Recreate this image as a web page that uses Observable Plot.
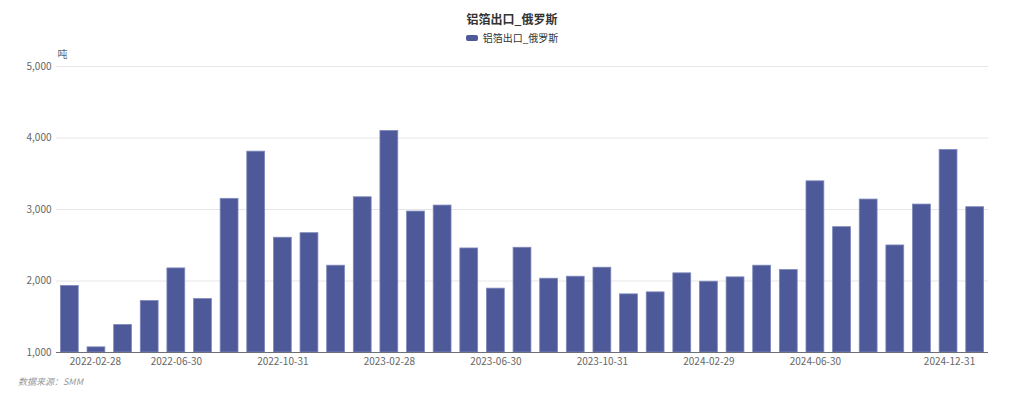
<!DOCTYPE html>
<html>
<head>
<meta charset="utf-8">
<script src="https://cdn.jsdelivr.net/npm/d3@7"></script>
<script src="https://cdn.jsdelivr.net/npm/@observablehq/plot@0.6"></script>
<style>
  html, body { margin: 0; padding: 0; background: #fff; }
  body { width: 1024px; height: 399px; overflow: hidden; font-family: "Noto Sans CJK SC", "Noto Sans", sans-serif; position: relative; }
  #title { position: absolute; left: 0; width: 1024px; top: 11px; text-align: center; font-size: 12px; font-weight: bold; color: #333; line-height: 16px; }
  #legend { position: absolute; left: 0; width: 1024px; top: 31px; text-align: center; font-size: 10px; color: #333; line-height: 14px; }
  #legend .sw { display: inline-block; width: 12px; height: 6px; border-radius: 2px; background: #4d5998; vertical-align: middle; margin-right: 5px; position: relative; top: -1px; }
  #chart { position: absolute; left: 0; top: 44px; }
  #caption { position: absolute; left: 18px; top: 376px; font-size: 9px; font-style: italic; color: #999; line-height: 12px; }
</style>
</head>
<body>
<div id="title">铝箔出口_俄罗斯</div>
<div id="legend"><span class="sw"></span>铝箔出口_俄罗斯</div>
<div id="chart"></div>
<div id="caption">数据来源：SMM</div>
<script>
const categories = [
  "2022-02-28","2022-03-31","2022-04-30","2022-05-31","2022-06-30","2022-07-31","2022-08-31","2022-09-30","2022-10-31","2022-11-30","2022-12-31",
  "2023-01-31","2023-02-28","2023-03-31","2023-04-30","2023-05-31","2023-06-30","2023-07-31","2023-08-31","2023-09-30","2023-10-31","2023-11-30","2023-12-31",
  "2024-01-31","2024-02-29","2024-03-31","2024-04-30","2024-05-31","2024-06-30","2024-07-31","2024-08-31","2024-09-30","2024-10-31","2024-11-30","2024-12-31"
];
const values = [
  1930, 1072, 1385, 1720, 2176, 1748, 3149, 3809, 2605, 2669, 2214,
  3171, 4098, 2971, 3055, 2455, 1893, 2465, 2032, 2060, 2186, 1813, 1841,
  2107, 1990, 2051, 2214, 2153, 3394, 2753, 3139, 2497, 3069, 3833, 3032
];
const xTickLabels = ["2022-02-28","2022-06-30","2022-10-31","2023-02-28","2023-06-30","2023-10-31","2024-02-29","2024-06-30","2024-12-31"];
const yTicks = [1000, 2000, 3000, 4000, 5000];
const seriesName = "铝箔出口_俄罗斯";
const unit = "吨";

const data = categories.map((d, i) => ({date: d, value: values[i]}));
const firstLabel = xTickLabels.slice(0, 1);
const midLabels = xTickLabels.slice(1, -1);
const lastLabel = xTickLabels.slice(-1);

const fontFam = "'Noto Sans CJK SC', 'Noto Sans', sans-serif";
const chart = Plot.plot({
  width: 1024,
  height: 326,
  marginTop: 22,
  marginBottom: 18,
  marginLeft: 56,
  marginRight: 36,
  style: { fontFamily: fontFam, fontSize: "10px", color: "#666", background: "transparent" },
  x: { domain: categories, paddingInner: 0.33, paddingOuter: 0.165, round: false, axis: null },
  y: { domain: [1000, 5000], axis: null },
  marks: [
    Plot.gridY(yTicks, { stroke: "#e6e6e6", strokeOpacity: 1, strokeWidth: 1 }),
    Plot.axisY(yTicks, { tickSize: 0, tickPadding: 5, tickFormat: d3.format(","), fill: "#666", fontSize: 10, label: null }),
    Plot.text([unit], { frameAnchor: "top-left", dx: 1, dy: -16, fill: "#666", fontSize: 10 }),
    Plot.barY(data, { x: "date", y1: 1000, y2: "value", fill: "#4d5998", stroke: "#7f88ba", strokeWidth: 0.8 }),
    Plot.ruleY([1000], { stroke: "#6e7079", strokeWidth: 1 }),
    Plot.text(firstLabel, { x: d => d, frameAnchor: "bottom", dy: 12, textAnchor: "start", fill: "#666", fontSize: 10 }),
    Plot.text(midLabels, { x: d => d, frameAnchor: "bottom", dy: 12, textAnchor: "middle", fill: "#666", fontSize: 10 }),
    Plot.text(lastLabel, { x: d => d, frameAnchor: "bottom", dy: 12, textAnchor: "end", fill: "#666", fontSize: 10 })
  ]
});
document.getElementById("chart").appendChild(chart);
</script>
</body>
</html>
